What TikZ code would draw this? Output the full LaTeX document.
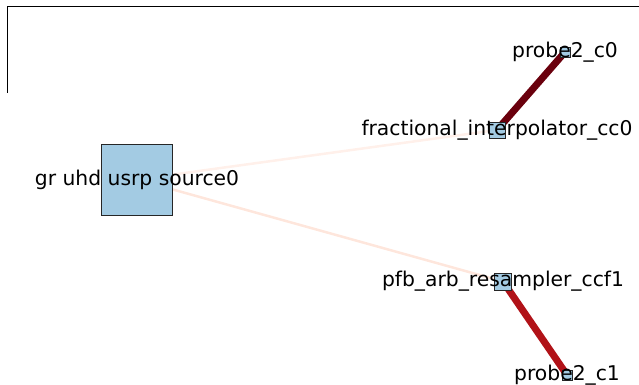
\documentclass[tikz,border=0pt]{standalone}
\usepackage{fontspec}
\setmainfont{DejaVu Sans}
\definecolor{blockfill}{HTML}{A3CBE3}
\definecolor{flowfaint}{HTML}{FFF0EA}
\definecolor{flowlight}{HTML}{FEE6DC}
\definecolor{flowdark}{HTML}{6A000D}
\definecolor{flowred}{HTML}{B11218}
\begin{document}
\begin{tikzpicture}[x=1pt,y=-1pt,
  block/.style={draw=black!85, line width=0.9pt, fill=blockfill, inner sep=0pt, rectangle},
  blocklabel/.style={font=\fontsize{20.3}{22}\selectfont, inner sep=0pt, text=black},
  flow/.style={line cap=butt}]
  \useasboundingbox (0,0) rectangle (639,384);
  % partial axes frame
  \draw[line width=1.5pt, line cap=rect] (7.5,92) -- (7.5,6.5) -- (645,6.5);
  % block squares
  \node[block, minimum size=71pt] (src) at (137,179.5) {};
  \node[block, minimum size=16pt] (frac) at (497,130) {};
  \node[block, minimum size=17pt] (pfb) at (503,281.5) {};
  \node[block, minimum size=10pt] (pc0) at (565,52) {};
  \node[block, minimum size=10pt] (pc1) at (567,375) {};
  % connections, coloured by load
  \draw[flow, draw=flowfaint, line width=2.5pt] (src.center) -- (frac.center);
  \draw[flow, draw=flowlight, line width=2.5pt] (src.center) -- (pfb.center);
  \draw[flow, draw=flowdark, line width=7pt] (frac.center) -- (pc0.center);
  \draw[flow, draw=flowred, line width=7pt] (pfb.center) -- (pc1.center);
  % redraw squares over the connections
  \node[block, minimum size=71pt] at (src) {};
  \node[block, minimum size=16pt] at (frac) {};
  \node[block, minimum size=17pt] at (pfb) {};
  \node[block, minimum size=10pt] at (pc0) {};
  \node[block, minimum size=10pt] at (pc1) {};
  % labels
  \node[blocklabel] (srcl) at (src) {gr uhd usrp source0};
  \node[blocklabel] (fracl) at (frac) {fractional\_interpolator\_cc0};
  \node[blocklabel] (pfbl) at (pfb) {pfb\_arb\_resampler\_ccf1};
  \node[blocklabel] (pc0l) at (pc0) {probe2\_c0};
  \node[blocklabel] (pc1l) at (pc1) {probe2\_c1};
\end{tikzpicture}
\end{document}
